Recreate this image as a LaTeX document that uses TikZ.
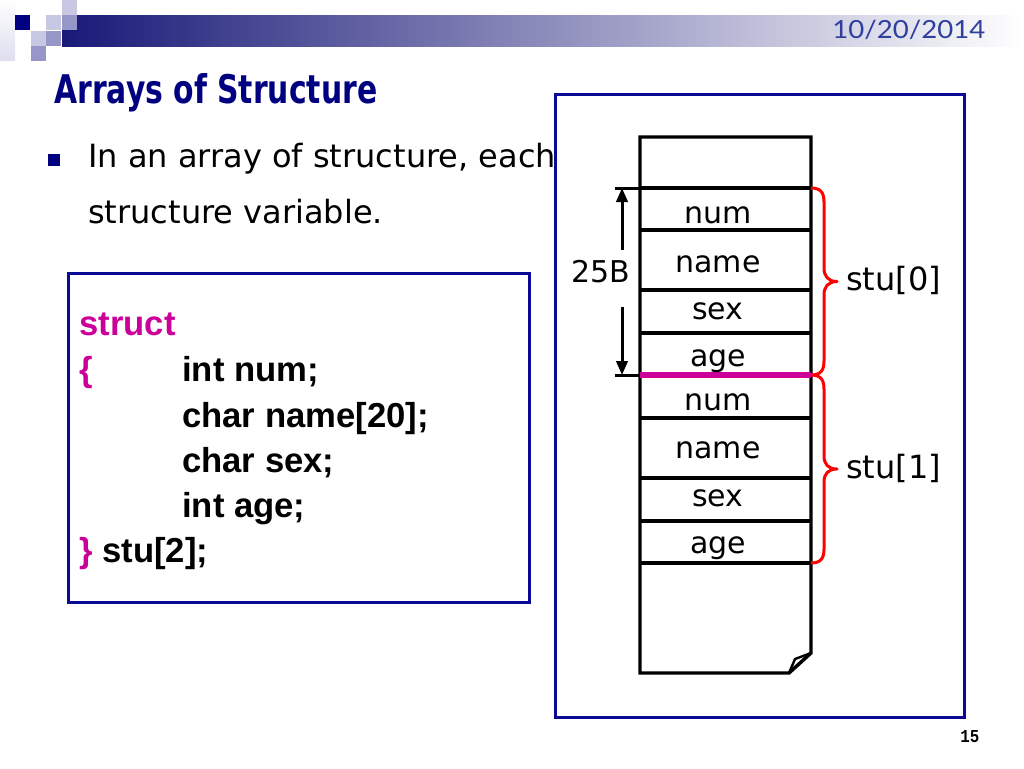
\documentclass[tikz,border=0pt]{standalone}
\usepackage{graphicx}
\usepackage{fontspec}
\setmainfont{DejaVu Sans}
\newfontfamily\codefont{Liberation Sans}
\newfontfamily\datefont{Lato}
\newfontfamily\numfont{Liberation Mono}
\usetikzlibrary{arrows.meta}
\definecolor{navy}{RGB}{0,0,128}
\definecolor{boxblue}{RGB}{10,10,150}
\definecolor{datecol}{RGB}{46,63,158}
\definecolor{mag}{RGB}{204,0,153}
\definecolor{lightlav}{RGB}{200,200,228}
\definecolor{midlav}{RGB}{150,150,200}
\definecolor{barnavy}{RGB}{25,25,120}
\tikzset{
  txt/.style={inner sep=0pt, anchor=base west},
  bullettext/.style={txt, font=\fontsize{24pt}{28pt}\selectfont},
  code/.style={txt, font=\codefont\bfseries\fontsize{26pt}{30pt}\selectfont},
  cell/.style={inner sep=0pt, anchor=base, font=\fontsize{22.5pt}{26pt}\selectfont},
  sidelabel/.style={txt, font=\fontsize{24pt}{28pt}\selectfont},
  panel/.style={draw=boxblue, line width=2.25pt, fill=white},
  memline/.style={line width=2.6pt, black},
  dimline/.style={line width=2.25pt, black},
  bracestyle/.style={draw=red, line width=2.25pt, line join=round}
}
\begin{document}
\begin{tikzpicture}[x=0.75pt,y=-0.75pt]
\useasboundingbox (0,0) rectangle (1024,768);
\fill[white] (0,0) rectangle (1024,768);

% header decoration
\shade[top color=white, bottom color=lightlav!60] (0,0) rectangle (15,60);
\shade[left color=barnavy, right color=white] (62,15) rectangle (1024,46);
\fill[navy] (15,15) rectangle (30,30);
\fill[lightlav] (46,15) rectangle (61,30);
\fill[midlav] (62,15) rectangle (77,30);
\fill[lightlav] (62,0) rectangle (77,15);
\fill[lightlav] (31,31) rectangle (46,46);
\fill[midlav] (46,31) rectangle (61,46);
\fill[midlav] (31,46) rectangle (46,61);

\node[txt, text=datecol] (date) at (832,38) {\resizebox{114.75pt}{13.8pt}{\datefont 10/20/2014}};
\node[txt, text=navy] (title) at (54,103) {\resizebox{242.25pt}{22.5pt}{\bfseries Arrays of Structure}};

% bullet
\fill[navy] (48,154) rectangle (60,166);
\node[bullettext] (b1) at (88,167) {In an array of structure, each};
\node[bullettext] (b2) at (88,223) {structure variable.};

% code box
\draw[panel] (68,273) rectangle (529,602);
\node[code, text=mag] (c0) at (79,335) {struct};
\node[code, text=mag] (c1) at (79,381) {\{};
\node[code] (c2) at (182,381) {int num;};
\node[code] (c3) at (182,427) {char name[20];};
\node[code] (c4) at (182,472) {char sex;};
\node[code] (c5) at (182,517) {int age;};
\node[code] (c6) at (79,562) {{\color{mag}\}} stu[2];};

% right panel
\draw[panel] (555,94) rectangle (964,717);

% memory block
\draw[memline, line join=miter] (640,137) -- (811,137) -- (811,653) -- (789,673) -- (640,673) -- cycle;
\draw[line width=1.8pt, line join=round] (789,673) -- (795,659) -- (811,653);
\foreach \yy in {188,230,290,333,418,478,521,563}
  \draw[memline] (640,\yy) -- (811,\yy);
\draw[line width=4pt, mag] (640,375) -- (811,375);

\node[cell] (n0) at (718,223) {num};
\node[cell] (m0) at (718,272) {name};
\node[cell] (s0) at (718,319) {sex};
\node[cell] (a0) at (718,366) {age};
\node[cell] (n1) at (718,410) {num};
\node[cell] (m1) at (718,458) {name};
\node[cell] (s1) at (718,506) {sex};
\node[cell] (a1) at (718,553) {age};

% dimension
\coordinate (dt) at (622,188);
\coordinate (du) at (622,250);
\coordinate (dl) at (622,307);
\coordinate (db) at (622,375);
\coordinate (tt1) at (615,188);
\coordinate (tt2) at (640,188);
\coordinate (tb1) at (615,375);
\coordinate (tb2) at (640,375);
\draw[dimline] (tt1) -- (tt2);
\draw[dimline] (tb1) -- (tb2);
\draw[dimline, -{Triangle[length=10.5pt,width=8.5pt]}] (du) -- (dt);
\draw[dimline, -{Triangle[length=10.5pt,width=8.5pt]}] (dl) -- (db);
\node[inner sep=0pt, anchor=base, font=\fontsize{22.5pt}{26pt}\selectfont] (sz) at (601,282) {25B};

% braces
\draw[bracestyle] (811,188) .. controls (821,188) and (824,193) .. (824,202) -- (824,268)
  .. controls (824,276) and (828,281.5) .. (837,281.5)
  .. controls (828,281.5) and (824,287) .. (824,295) -- (824,361)
  .. controls (824,370) and (821,375) .. (811,375);
\draw[bracestyle] (811,375) .. controls (821,375) and (824,380) .. (824,389) -- (824,456)
  .. controls (824,464) and (828,469) .. (837,469)
  .. controls (828,469) and (824,474) .. (824,482) -- (824,549)
  .. controls (824,558) and (821,563) .. (811,563);
\node[sidelabel] (st0) at (846,290) {stu[0]};
\node[sidelabel] (st1) at (846,478) {stu[1]};

% page number
\node[txt] (pg) at (960,742) {\resizebox{14.25pt}{9pt}{\numfont\bfseries 15}};
\end{tikzpicture}
\end{document}
